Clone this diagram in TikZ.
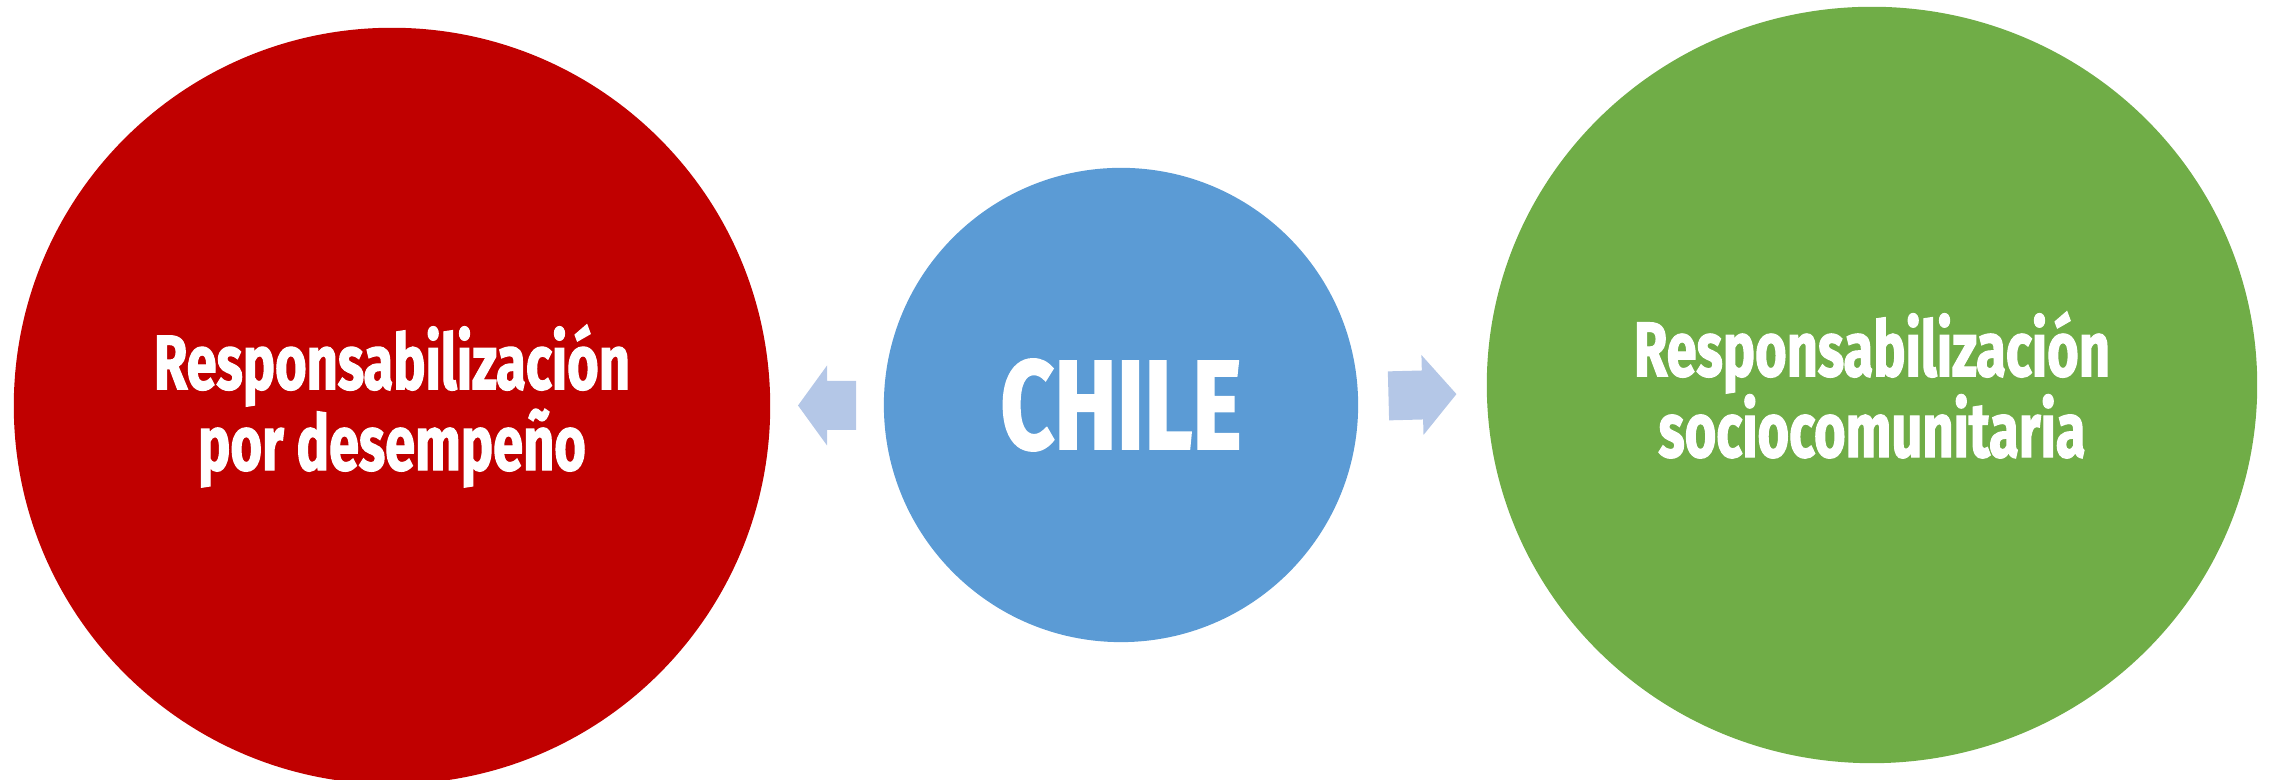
\documentclass[tikz,border=0pt]{standalone}
\usepackage{fontspec}
\setmainfont{Fira Sans}
\newfontfamily\narrowfont{Fira Sans}[FakeStretch=0.70, FakeBold=1.5]
\newfontfamily\chilefont{Fira Sans}[FakeStretch=0.74, FakeBold=1.5]
\usepackage{tikz}
\usetikzlibrary{calc,shapes.geometric}
\definecolor{redball}{HTML}{C00000}
\definecolor{blueball}{HTML}{5B9BD5}
\definecolor{greenball}{HTML}{70AD47}
\definecolor{arrowblue}{HTML}{B4C7E7}
\def\blockarrow[#1](#2)(#3:#4){\fill[#1, shift={(#2)}, rotate=#3] (-#4/2, -24.5) -- (0, -24.5) -- (0, -40) -- (#4/2, 0) -- (0, 40) -- (0, 24.5) -- (-#4/2, 24.5) -- cycle;}

\begin{document}
\begin{tikzpicture}[x=0.01cm, y=0.01cm,
		ball/.style={circle, inner sep=0pt, text=white, align=center,
			font=\narrowfont\bfseries\fontsize{22}{23}\selectfont}]
			%%%%% START %%%%%
			
			\useasboundingbox (0, 0) rectangle (2269, 780);
			
			\node[ball, fill=redball, minimum size=7.56cm] (red) at (392, 374) {Responsabilización\\por desempeño};
			\node[ball, fill=blueball, minimum size=4.74cm, font=\chilefont\bfseries\fontsize{36}{38}\selectfont] (chile) at (1121, 375) {CHILE};
			\node[ball, ellipse, fill=greenball, minimum width=7.70cm, minimum height=7.56cm] (green) at (1872, 395) {Responsabilización\\sociocomunitaria};
			
			\coordinate (left) at ($(red.east)!0.5!(chile.west)$);
			\coordinate (right) at ($(chile.east)!0.5!(green.west)$);
			
			\blockarrow[arrowblue](left)(180:58);
			\blockarrow[arrowblue](right)(1.5:68);
			
			%%%%% END %%%%%
		\end{tikzpicture}
\end{document}
